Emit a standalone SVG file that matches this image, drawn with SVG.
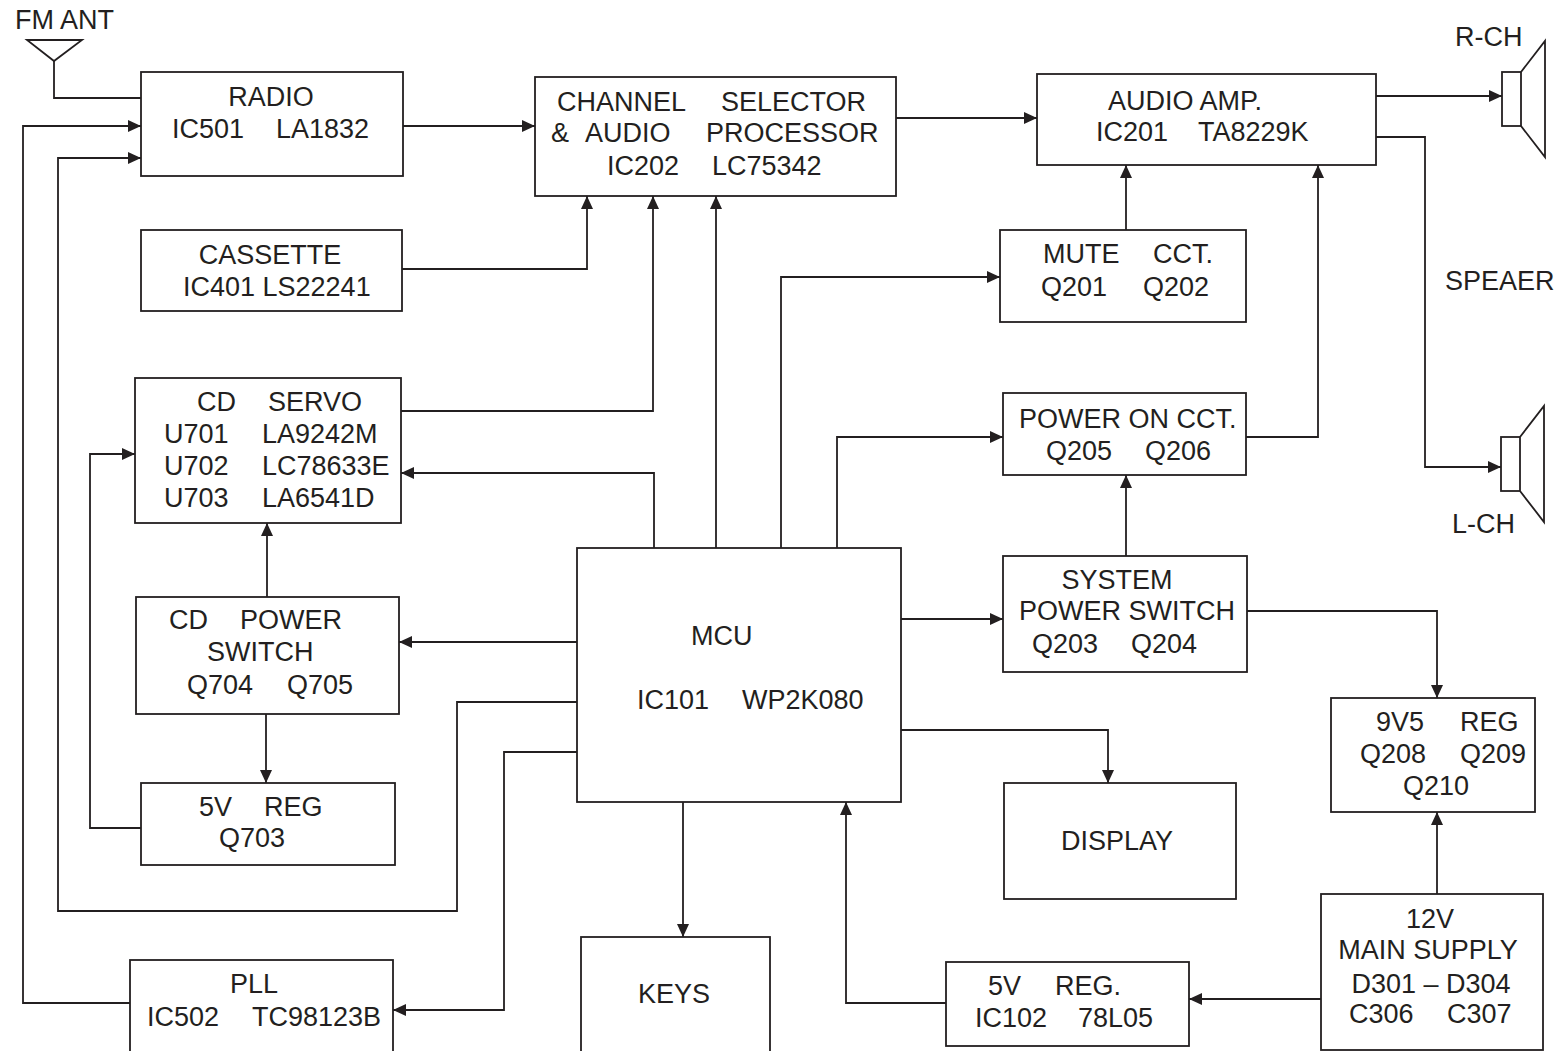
<svg xmlns="http://www.w3.org/2000/svg" width="1562" height="1051" viewBox="0 0 1562 1051">
<defs>
<marker id="ah" markerUnits="userSpaceOnUse" markerWidth="13" markerHeight="12" refX="13" refY="6" orient="auto">
<path d="M0,0 L13,6 L0,12 z" fill="#231f20"/>
</marker>
<style>
.box{fill:#fff;stroke:#231f20;stroke-width:1.8}
.ln{fill:none;stroke:#231f20;stroke-width:1.8}
.ar{fill:none;stroke:#231f20;stroke-width:1.8;marker-end:url(#ah)}
text{font-family:"Liberation Sans",Arial,sans-serif;font-size:27px;fill:#231f20}
.m{text-anchor:middle}
</style>
</defs>
<rect width="1562" height="1051" fill="#fff"/>

<g id="connectors">
<polygon class="ln" points="27,40 82,40 54,61"/>
<polyline class="ln" points="54,61 54,98 141,98"/>
<polyline class="ar" points="130,1003 23,1003 23,126 141,126"/>
<polyline class="ar" points="577,702 457,702 457,911 58,911 58,158 141,158"/>
<polyline class="ar" points="403,126 535,126"/>
<polyline class="ar" points="896,118 1037,118"/>
<polyline class="ar" points="1376,96 1502,96"/>
<polyline class="ar" points="1376,137 1425,137 1425,467 1501,467"/>
<polyline class="ar" points="402,269 587,269 587,196"/>
<polyline class="ar" points="401,411 653,411 653,196"/>
<polyline class="ar" points="716,548 716,196"/>
<polyline class="ar" points="781,548 781,277 1000,277"/>
<polyline class="ar" points="837,548 837,437 1003,437"/>
<polyline class="ar" points="1126,230 1126,165"/>
<polyline class="ar" points="1246,437 1318,437 1318,165"/>
<polyline class="ar" points="1126,556 1126,475"/>
<polyline class="ar" points="654,548 654,473 401,473"/>
<polyline class="ar" points="267,597 267,523"/>
<polyline class="ar" points="577,642 399,642"/>
<polyline class="ar" points="266,714 266,783"/>
<polyline class="ar" points="141,828 90,828 90,454 135,454"/>
<polyline class="ar" points="901,619 1003,619"/>
<polyline class="ar" points="1247,611 1437,611 1437,698"/>
<polyline class="ar" points="1437,894 1437,812"/>
<polyline class="ar" points="901,730 1108,730 1108,783"/>
<polyline class="ar" points="577,752 504,752 504,1010 393,1010"/>
<polyline class="ar" points="683,802 683,937"/>
<polyline class="ar" points="1321,999 1189,999"/>
<polyline class="ar" points="946,1003 846,1003 846,802"/>
</g>

<g id="antenna"><text x="15" y="29">FM ANT</text></g>

<g id="radio">
<rect class="box" x="141" y="72" width="262" height="104"/>
<text class="m" x="271" y="106">RADIO</text>
<text y="138"><tspan x="172">IC501</tspan><tspan x="276">LA1832</tspan></text>
</g>

<g id="channel">
<rect class="box" x="535" y="77" width="361" height="119"/>
<text y="111"><tspan x="557">CHANNEL</tspan><tspan x="721">SELECTOR</tspan></text>
<text y="142"><tspan x="551">&amp;</tspan><tspan x="585">AUDIO</tspan><tspan x="706">PROCESSOR</tspan></text>
<text y="175"><tspan x="607">IC202</tspan><tspan x="712">LC75342</tspan></text>
</g>

<g id="audioamp">
<rect class="box" x="1037" y="74" width="339" height="91"/>
<text x="1108" y="110">AUDIO AMP.</text>
<text y="141"><tspan x="1096">IC201</tspan><tspan x="1198">TA8229K</tspan></text>
</g>

<g id="speaker-r">
<rect class="box" x="1502" y="72" width="19" height="54"/>
<polyline class="ln" points="1521,72 1545,41 1545,157 1521,126"/>
<text x="1455" y="46">R-CH</text>
</g>

<g id="speaker-l">
<rect class="box" x="1501" y="437" width="19" height="54"/>
<polyline class="ln" points="1520,437 1544,406 1544,522 1520,491"/>
<text x="1452" y="533">L-CH</text>
</g>

<g id="speaker-label"><text x="1445" y="290">SPEAER</text></g>

<g id="cassette">
<rect class="box" x="141" y="230" width="261" height="81"/>
<text class="m" x="270" y="264">CASSETTE</text>
<text x="183" y="296">IC401 LS22241</text>
</g>

<g id="mute">
<rect class="box" x="1000" y="230" width="246" height="92"/>
<text y="263"><tspan x="1043">MUTE</tspan><tspan x="1153">CCT.</tspan></text>
<text y="296"><tspan x="1041">Q201</tspan><tspan x="1143">Q202</tspan></text>
</g>

<g id="cdservo">
<rect class="box" x="135" y="378" width="266" height="145"/>
<text y="411"><tspan x="197">CD</tspan><tspan x="268">SERVO</tspan></text>
<text y="443"><tspan x="164">U701</tspan><tspan x="262">LA9242M</tspan></text>
<text y="475"><tspan x="164">U702</tspan><tspan x="262">LC78633E</tspan></text>
<text y="507"><tspan x="164">U703</tspan><tspan x="262">LA6541D</tspan></text>
</g>

<g id="poweron">
<rect class="box" x="1003" y="393" width="243" height="82"/>
<text x="1019" y="428">POWER ON CCT.</text>
<text y="460"><tspan x="1046">Q205</tspan><tspan x="1145">Q206</tspan></text>
</g>

<g id="mcu">
<rect class="box" x="577" y="548" width="324" height="254"/>
<text x="691" y="645">MCU</text>
<text y="709"><tspan x="637">IC101</tspan><tspan x="742">WP2K080</tspan></text>
</g>

<g id="cdpower">
<rect class="box" x="136" y="597" width="263" height="117"/>
<text y="629"><tspan x="169">CD</tspan><tspan x="240">POWER</tspan></text>
<text x="207" y="661">SWITCH</text>
<text y="694"><tspan x="187">Q704</tspan><tspan x="287">Q705</tspan></text>
</g>

<g id="system">
<rect class="box" x="1003" y="556" width="244" height="116"/>
<text class="m" x="1117" y="589">SYSTEM</text>
<text x="1019" y="620">POWER SWITCH</text>
<text y="653"><tspan x="1032">Q203</tspan><tspan x="1131">Q204</tspan></text>
</g>

<g id="reg9v5">
<rect class="box" x="1331" y="698" width="204" height="114"/>
<text y="731"><tspan x="1376">9V5</tspan><tspan x="1460">REG</tspan></text>
<text y="763"><tspan x="1360">Q208</tspan><tspan x="1460">Q209</tspan></text>
<text x="1403" y="795">Q210</text>
</g>

<g id="reg5v-cd">
<rect class="box" x="141" y="783" width="254" height="82"/>
<text y="816"><tspan x="199">5V</tspan><tspan x="264">REG</tspan></text>
<text x="219" y="847">Q703</text>
</g>

<g id="display">
<rect class="box" x="1004" y="783" width="232" height="116"/>
<text x="1061" y="850">DISPLAY</text>
</g>

<g id="mainsupply">
<rect class="box" x="1321" y="894" width="222" height="156"/>
<text class="m" x="1430" y="928">12V</text>
<text class="m" x="1428" y="959">MAIN SUPPLY</text>
<text class="m" x="1431" y="993">D301 – D304</text>
<text y="1023"><tspan x="1349">C306</tspan><tspan x="1447">C307</tspan></text>
</g>

<g id="pll">
<rect class="box" x="130" y="960" width="263" height="100"/>
<text x="230" y="993">PLL</text>
<text y="1026"><tspan x="147">IC502</tspan><tspan x="252">TC98123B</tspan></text>
</g>

<g id="keys">
<rect class="box" x="581" y="937" width="189" height="120"/>
<text x="638" y="1003">KEYS</text>
</g>

<g id="reg5v-mcu">
<rect class="box" x="946" y="962" width="243" height="84"/>
<text y="995"><tspan x="988">5V</tspan><tspan x="1055">REG.</tspan></text>
<text y="1027"><tspan x="975">IC102</tspan><tspan x="1078">78L05</tspan></text>
</g>
</svg>
